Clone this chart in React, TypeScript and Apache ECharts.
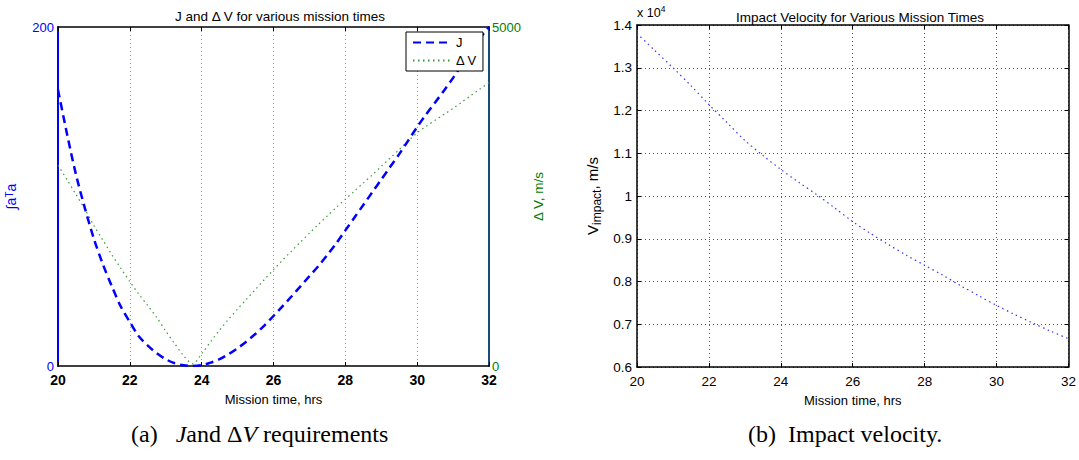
import React, { useEffect, useRef } from "react";
import * as echarts from "echarts";

const missionTimes = [
  20, 20.25, 20.5, 20.75, 21, 21.25, 21.5, 21.75, 22, 22.25, 22.5, 22.75, 23, 23.25, 23.5, 23.75,
  24, 24.25, 24.5, 24.75, 25, 25.25, 25.5, 25.75, 26, 26.25, 26.5, 26.75, 27, 27.25, 27.5, 27.75,
  28, 28.25, 28.5, 28.75, 29, 29.25, 29.5, 29.75, 30, 30.25, 30.5, 30.75, 31, 31.25, 31.5, 31.75, 32,
];
const jValues = [
  163, 137, 113, 93, 75, 60, 47, 35, 26, 17.5, 12, 7.5, 4, 1.6, 0.4, 0,
  0.5, 2, 4, 7, 10.5, 14.5, 19, 24, 29.5, 35.2, 41, 47, 53, 59, 65.5, 72.5,
  80, 87.5, 95, 102.5, 110, 117.5, 125, 133, 141, 148.5, 155.5, 162.6, 170, 178, 186, 193.5, 200,
];
const deltaVValues = [
  2960, 2750, 2530, 2310, 2070, 1855, 1640, 1441, 1243, 1060, 890, 715, 515, 330, 150, 30,
  180, 360, 530, 690, 840, 985, 1130, 1278, 1420, 1560, 1695, 1828, 1958, 2088, 2215, 2340,
  2460, 2578, 2698, 2818, 2943, 3068, 3193, 3318, 3440, 3535, 3625, 3712, 3800, 3895, 3990, 4087, 4180,
];
const impactTimes = [
  20, 20.5, 21, 21.5, 22, 22.5, 23, 23.5, 24, 24.5, 25, 25.5, 26, 26.5, 27, 27.5, 28, 28.5, 29,
  29.5, 30, 30.5, 31, 31.5, 32,
];
const impactValues = [
  13800, 13400, 13000, 12580, 12140, 11720, 11300, 10950, 10620, 10320, 10030, 9720, 9400, 9120,
  8860, 8610, 8380, 8150, 7900, 7670, 7440, 7230, 7030, 6840, 6660,
];

const FONT = "Liberation Sans, Arial, sans-serif";
const SERIF = "Liberation Serif, Times New Roman, serif";

const pair = (xs: number[], ys: number[]) => xs.map((x, i) => [x, ys[i]]);

export default function App() {
  const ref = useRef<HTMLDivElement>(null);

  useEffect(() => {
    document.body.style.margin = "0";
    if (!ref.current) return;
    const chart = echarts.init(ref.current, undefined, { renderer: "svg" });

    const boxX = (gridIndex: number, position: "top" | "bottom", main: boolean, bold: boolean, gridColor: string) => ({
      type: "value",
      gridIndex,
      position,
      min: 20,
      max: 32,
      interval: 2,
      name: main ? "Mission time, hrs" : "",
      nameLocation: "middle",
      nameGap: 27,
      nameTextStyle: { fontFamily: FONT, fontSize: 13, color: "#000" },
      axisLine: { show: true, onZero: false, lineStyle: { color: "#000", width: 1.5 } },
      axisTick: { show: true, inside: true, length: 4, lineStyle: { color: "#000" } },
      axisLabel: {
        show: main,
        margin: 7,
        fontFamily: FONT,
        fontSize: bold ? 14 : 13.5,
        fontWeight: bold ? "bold" : "normal",
        color: "#000",
      },
      splitLine: main
        ? { show: true, lineStyle: { color: gridColor, type: [1, 3], width: 1 } }
        : { show: false },
    });

    const option: any = {
      animation: false,
      backgroundColor: "#fff",
      title: [
        {
          text: "J and Δ V for various mission times",
          left: 275,
          top: 4,
          textAlign: "center",
          textStyle: { fontFamily: FONT, fontSize: 13.5, fontWeight: "normal", color: "#000" },
        },
        {
          text: "Impact Velocity for Various Mission Times",
          left: 855,
          top: 5,
          textAlign: "center",
          textStyle: { fontFamily: FONT, fontSize: 13.5, fontWeight: "normal", color: "#000" },
        },
      ],
      legend: {
        left: 406,
        top: 32,
        orient: "vertical",
        align: "left",
        itemWidth: 38,
        itemHeight: 10,
        itemGap: 5,
        padding: [4, 6, 4, 6],
        borderColor: "#000",
        borderWidth: 1,
        backgroundColor: "#fff",
        itemStyle: { opacity: 0 },
        textStyle: { fontFamily: FONT, fontSize: 13, color: "#000" },
        data: ["J", "Δ V"],
      },
      grid: [
        { left: 58, top: 27, width: 431, height: 339 },
        { left: 637, top: 25, width: 432, height: 342 },
      ],
      xAxis: [
        boxX(0, "bottom", true, true, "#999"),
        boxX(0, "top", false, false, "#999"),
        boxX(1, "bottom", true, false, "#555"),
        boxX(1, "top", false, false, "#555"),
      ],
      yAxis: [
        {
          type: "value",
          gridIndex: 0,
          position: "left",
          min: 0,
          max: 200,
          interval: 200,
          name: "∫aᵀa",
          nameLocation: "middle",
          nameGap: 40,
          nameTextStyle: { fontFamily: FONT, fontSize: 14, color: "#0000ff" },
          axisLine: { show: true, lineStyle: { color: "#0000ff", width: 2 } },
          axisTick: { show: false },
          axisLabel: { margin: 4, fontFamily: FONT, fontSize: 13, color: "#0000ff", formatter: (v: number) => String(v) },
          splitLine: { show: false },
        },
        {
          type: "value",
          gridIndex: 0,
          position: "right",
          min: 0,
          max: 5000,
          interval: 5000,
          name: "Δ V, m/s",
          nameLocation: "middle",
          nameGap: 42,
          nameRotate: 90,
          nameTextStyle: { fontFamily: FONT, fontSize: 13.5, color: "#008000" },
          axisLine: { show: true, lineStyle: { color: "#1a4a78", width: 2 } },
          axisTick: { show: false },
          axisLabel: { margin: 3, fontFamily: FONT, fontSize: 13, color: "#008000", formatter: (v: number) => String(v) },
          splitLine: { show: false },
        },
        {
          type: "value",
          gridIndex: 1,
          position: "left",
          min: 6000,
          max: 14000,
          interval: 1000,
          name: "{v|V}{s|impact}{v|, m/s}",
          nameLocation: "middle",
          nameGap: 34,
          nameTextStyle: {
            fontFamily: FONT,
            fontSize: 14,
            color: "#000",
            rich: {
              v: { fontFamily: FONT, fontSize: 15, color: "#000", lineHeight: 22 },
              s: {
                fontFamily: FONT,
                fontSize: 12,
                color: "#000",
                lineHeight: 22,
                verticalAlign: "bottom",
                padding: [7, 0, 0, 0],
              },
            },
          },
          axisLine: { show: true, lineStyle: { color: "#000", width: 1.5 } },
          axisTick: { show: true, inside: true, length: 4, lineStyle: { color: "#000" } },
          axisLabel: {
            margin: 5,
            fontFamily: FONT,
            fontSize: 13.5,
            color: "#000",
            formatter: (v: number) => String(Math.round(v / 100) / 100),
          },
          splitLine: { show: true, lineStyle: { color: "#555", type: [1, 3], width: 1 } },
        },
        {
          type: "value",
          gridIndex: 1,
          position: "right",
          min: 6000,
          max: 14000,
          interval: 1000,
          axisLine: { show: true, lineStyle: { color: "#000", width: 1.5 } },
          axisTick: { show: true, inside: true, length: 4, lineStyle: { color: "#000" } },
          axisLabel: { show: false },
          splitLine: { show: false },
        },
      ],
      graphic: [
        {
          type: "text",
          left: 637,
          top: 4,
          style: {
            text: "{n|x 10}{s|4}",
            rich: {
              n: { fontFamily: FONT, fontSize: 12.5, color: "#000", lineHeight: 18 },
              s: {
                fontFamily: FONT,
                fontSize: 8.5,
                color: "#000",
                lineHeight: 18,
                verticalAlign: "top",
                padding: [0, 0, 8, 0],
              },
            },
          },
        },
        {
          type: "text",
          left: 131,
          top: 422,
          style: {
            text: "{r|(a)   }{i|J}{r|and }{r|Δ}{i|V}{r| requirements}",
            rich: {
              r: { fontFamily: SERIF, fontSize: 24, color: "#000" },
              i: { fontFamily: SERIF, fontSize: 24, fontStyle: "italic", color: "#000" },
            },
          },
        },
        {
          type: "text",
          left: 748,
          top: 422,
          style: {
            text: "(b)  Impact velocity.",
            fontFamily: SERIF,
            fontSize: 24,
            fill: "#000",
          },
        },
      ],
      series: [
        {
          name: "J",
          type: "line",
          xAxisIndex: 0,
          yAxisIndex: 0,
          data: pair(missionTimes, jValues),
          showSymbol: false,
          symbol: "none",
          smooth: 0.3,
          lineStyle: { color: "#0000ff", width: 2.5, type: [8, 5] },
          itemStyle: { color: "#0000ff" },
          z: 3,
        },
        {
          name: "Δ V",
          type: "line",
          xAxisIndex: 0,
          yAxisIndex: 1,
          data: pair(missionTimes, deltaVValues),
          showSymbol: false,
          symbol: "none",
          smooth: 0.3,
          lineStyle: { color: "#3a9a3a", width: 1.2, type: [1.5, 3.5] },
          itemStyle: { color: "#3a9a3a" },
          z: 2,
        },
        {
          name: "Vimpact",
          type: "line",
          xAxisIndex: 2,
          yAxisIndex: 2,
          data: pair(impactTimes, impactValues),
          showSymbol: false,
          symbol: "none",
          smooth: 0.3,
          lineStyle: { color: "#3333ff", width: 1.2, type: [1.5, 3.5] },
          itemStyle: { color: "#3333ff" },
        },
      ],
    };

    chart.setOption(option);
    return () => chart.dispose();
  }, []);

  return <div ref={ref} style={{ width: 1079, height: 460 }} />;
}
